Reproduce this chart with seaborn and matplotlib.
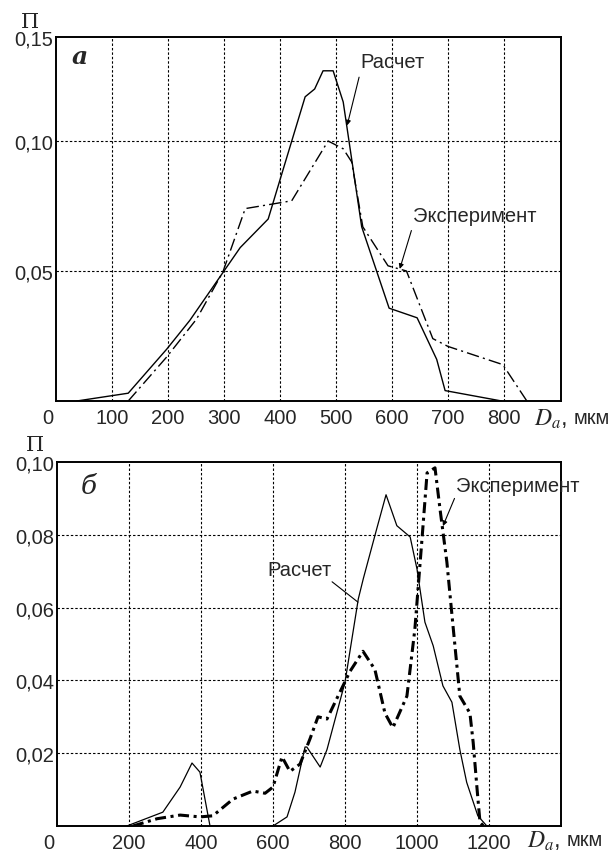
import numpy as np
import pandas as pd
import seaborn as sns
import matplotlib.pyplot as plt
from matplotlib.transforms import ScaledTranslation

# panel a
a_calc_x = [37, 129, 198, 239, 329, 379, 400, 445, 462, 477, 495, 513, 546, 595, 645, 680, 695, 796]
a_calc_y = [0, 0.003, 0.020, 0.031, 0.059, 0.070, 0.085, 0.117, 0.120, 0.127, 0.127, 0.115, 0.067,
            0.0357, 0.032, 0.016, 0.004, 0]
a_exp_x = [129, 198, 251, 298, 338, 421, 486, 513, 528, 548, 593, 626, 673, 700, 798, 841]
a_exp_y = [0, 0.017, 0.0315, 0.0496, 0.074, 0.077, 0.100, 0.097, 0.092, 0.067, 0.052, 0.050,
           0.024, 0.021, 0.014, 0]

# panel б
b_calc_x = [194, 294, 342, 375, 397, 425, 600, 639, 661, 689, 694, 731, 750, 800, 837, 851, 888,
            914, 944, 981, 1000, 1022, 1045, 1072, 1097, 1119, 1138, 1169, 1194, 1222]
b_calc_y = [0, 0.0038, 0.0107, 0.0173, 0.0148, 0, 0, 0.0025, 0.0093, 0.0217, 0.0217, 0.0162,
            0.021, 0.0395, 0.0624, 0.068, 0.0816, 0.091, 0.0825, 0.0794, 0.0706, 0.056, 0.0495,
            0.0385, 0.034, 0.021, 0.012, 0.0028, 0, 0]
b_exp_x = [211, 278, 342, 397, 433, 489, 544, 578, 600, 625, 647, 675, 703, 725, 750, 786, 814,
           850, 883, 911, 933, 972, 994, 1014, 1028, 1050, 1064, 1083, 1100, 1119, 1147, 1156,
           1167, 1175, 1185]
b_exp_y = [0, 0.002, 0.003, 0.0025, 0.0028, 0.0074, 0.0096, 0.009, 0.0107, 0.019, 0.015, 0.017,
           0.024, 0.030, 0.0294, 0.0368, 0.0425, 0.048, 0.043, 0.031, 0.027, 0.0357, 0.054,
           0.079, 0.097, 0.0984, 0.087, 0.0725, 0.055, 0.0357, 0.031, 0.023, 0.010, 0.001, 0]

a_xticks = [0, 100, 200, 300, 400, 500, 600, 700, 800]
a_yticks = [0.05, 0.10, 0.14]
a_ylabels = ['0,05', '0,10', '0,15']
b_xticks = [0, 200, 400, 600, 800, 1000, 1200]
b_yticks = [0.02, 0.04, 0.06, 0.08, 0.10]
b_ylabels = ['0,02', '0,04', '0,06', '0,08', '0,10']

sns.set_style("white")
plt.rcParams['font.family'] = ['Liberation Sans', 'DejaVu Sans']
plt.rcParams['mathtext.fontset'] = 'stix'

fig = plt.figure(figsize=(6.12, 8.53), dpi=100)
ax1 = fig.add_axes([56/612, 1-402/853, 505/612, 364/853])
ax2 = fig.add_axes([57/612, 1-827/853, 504/612, 364/853])

grid_ls = (0, (2.2, 1.8))
FS = 14.5


def style_axes(ax, xlim, ylim, xticks, yticks, ylabels):
    ax.set_xlim(*xlim)
    ax.set_ylim(*ylim)
    for x in xticks[1:]:
        ax.axvline(x, color='black', lw=0.8, ls=grid_ls, zorder=0)
    for y in yticks[:-1]:
        ax.axhline(y, color='black', lw=0.8, ls=grid_ls, zorder=0)
    ax.set_xticks(xticks)
    ax.set_xticklabels([str(t) for t in xticks])
    ax.set_yticks(yticks)
    ax.set_yticklabels(ylabels)
    ax.tick_params(labelsize=FS, length=0)
    ax.tick_params(axis='y', pad=2)
    ax.tick_params(axis='x', pad=5)
    lab0 = ax.get_xticklabels()[0]
    lab0.set_transform(lab0.get_transform() + ScaledTranslation(-0.08, 0, fig.dpi_scale_trans))
    for s in ax.spines.values():
        s.set_color('black')
        s.set_linewidth(1.4)
    ax.set_xlabel('')
    ax.set_ylabel('')


# ---- panel a ----
df_a1 = pd.DataFrame({'x': a_calc_x, 'y': a_calc_y})
df_a2 = pd.DataFrame({'x': a_exp_x, 'y': a_exp_y})
sns.lineplot(data=df_a1, x='x', y='y', ax=ax1, color='black', lw=1.0, sort=False)
sns.lineplot(data=df_a2, x='x', y='y', ax=ax1, color='black', lw=1.0, sort=False,
             linestyle=(0, (9, 3, 1.5, 3)))
style_axes(ax1, (0, 902), (0, 0.14), a_xticks, a_yticks, a_ylabels)

ax1.text(42, 0.1325, 'a', fontsize=18, fontstyle='italic', fontweight='bold',
         family='DejaVu Serif', va='center', ha='center')
ax1.annotate('Расчет', xy=(520, 0.106), xytext=(544, 0.1305), fontsize=FS,
             va='center', ha='left',
             arrowprops=dict(arrowstyle='-|>', color='black', lw=0.8, mutation_scale=7,
                             shrinkA=2, shrinkB=0, relpos=(0, 0)))
ax1.annotate('Эксперимент', xy=(614, 0.0508), xytext=(638, 0.0715), fontsize=FS,
             va='center', ha='left',
             arrowprops=dict(arrowstyle='-|>', color='black', lw=0.8, mutation_scale=7,
                             shrinkA=2, shrinkB=0, relpos=(0, 0)))
fig.text(30/612, 1-22/853, 'П', fontsize=15, family='DejaVu Serif', ha='center', va='center')
fig.text(534/612, 1-419/853, '$D_a$,', fontsize=17, ha='left', va='center')
fig.text(574/612, 1-419/853, 'мкм', fontsize=FS, ha='left', va='center')

# ---- panel б ----
df_b1 = pd.DataFrame({'x': b_calc_x, 'y': b_calc_y})
df_b2 = pd.DataFrame({'x': b_exp_x, 'y': b_exp_y})
sns.lineplot(data=df_b1, x='x', y='y', ax=ax2, color='black', lw=0.9, sort=False)
sns.lineplot(data=df_b2, x='x', y='y', ax=ax2, color='black', lw=2.2, sort=False,
             linestyle=(0, (3.6, 1.5, 1.0, 1.5)))
style_axes(ax2, (0, 1400), (0, 0.10), b_xticks, b_yticks, b_ylabels)

ax2.text(88, 0.0935, 'б', fontsize=19, fontstyle='italic', family='DejaVu Serif',
         va='center', ha='center')
ax2.annotate('Расчет', xy=(836, 0.0615), xytext=(583, 0.0706), fontsize=FS,
             va='center', ha='left',
             arrowprops=dict(arrowstyle='-', color='black', lw=0.8, shrinkA=0, shrinkB=0,
                             relpos=(0.95, 0)))
ax2.annotate('Эксперимент', xy=(1072, 0.0824), xytext=(1108, 0.0935), fontsize=FS,
             va='center', ha='left',
             arrowprops=dict(arrowstyle='-|>', color='black', lw=0.8, mutation_scale=7,
                             shrinkA=0, shrinkB=0, relpos=(0, 0)))
fig.text(35/612, 1-446/853, 'П', fontsize=15, family='DejaVu Serif', ha='center', va='center')
fig.text(527/612, 1-841/853, '$D_a$,', fontsize=17, ha='left', va='center')
fig.text(567/612, 1-841/853, 'мкм', fontsize=FS, ha='left', va='center')

fig.savefig('out.png', dpi=100)
